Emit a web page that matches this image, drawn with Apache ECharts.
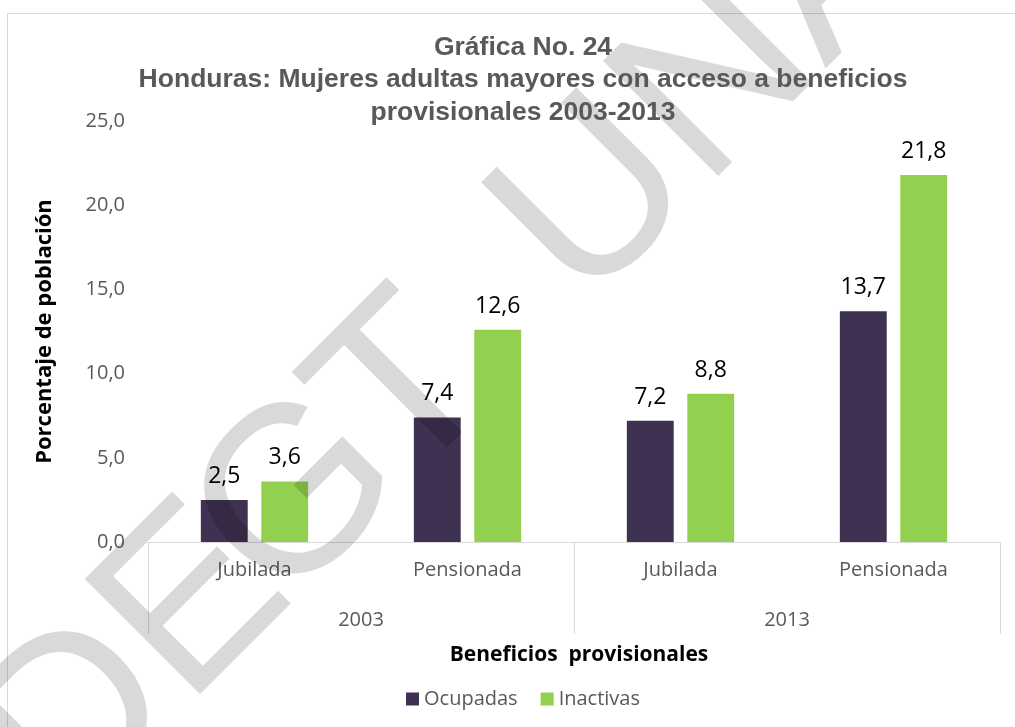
<!DOCTYPE html>
<html>
<head>
<meta charset="utf-8">
<script src="https://cdn.jsdelivr.net/npm/echarts@6/dist/echarts.min.js"></script>
<style>html,body{margin:0;padding:0;background:#fff}#c{width:1015px;height:727px}</style>
</head>
<body>
<div id="c"></div>
<script>
const categories = ['Jubilada', 'Pensionada', 'Jubilada', 'Pensionada'];
const years = ['2003', '2013'];
const seriesNames = ['Ocupadas', 'Inactivas'];
const ocupadas = [2.5, 7.4, 7.2, 13.7];
const inactivas = [3.6, 12.6, 8.8, 21.8];
const yTicks = [0, 5, 10, 15, 20, 25];
const colors = ['#3f3151', '#92d050'];

const fmt = v => v.toFixed(1).replace('.', ',');

// Background watermark (decoration): letters placed along a 45° baseline
const wmFont = 237;
const wmBaseline = -649;
const wmLetters = [['D', -540], ['E', -369], ['G', -233], ['T', -62], ['U', 193], ['N', 364], ['A', 535], ['H', 693]];
const k = Math.SQRT1_2;
const pMid = wmBaseline + 0.3465 * wmFont;
const wmGraphics = wmLetters.map(([ch, s]) => ({
  type: 'text', silent: true, z: 5,
  x: k * (s - pMid), y: -k * (s + pMid), rotation: Math.PI / 4,
  style: { text: ch, x: 0, y: 0, fontFamily: 'Liberation Sans', fontSize: wmFont,
           fill: 'rgba(0,0,0,0.15)', textAlign: 'left', verticalAlign: 'middle', textVerticalAlign: 'middle' }
}));

const chart = echarts.init(document.getElementById('c'));
const labelStyle = {
  show: true, position: 'top', distance: 12,
  fontFamily: 'Open Sans', fontSize: 23, color: '#000',
  formatter: p => fmt(p.value)
};
chart.setOption({
  animation: false,
  title: [{
    text: 'Gráfica No. 24\nHonduras: Mujeres adultas mayores con acceso a beneficios\nprovisionales 2003-2013',
    left: 518, top: 26, textAlign: 'center', z: 8,
    textStyle: { fontFamily: 'Liberation Sans', fontWeight: 'bold', fontSize: 26.5, lineHeight: 32.5, color: '#595959' }
  }, {
    text: 'Beneficios  provisionales',
    left: 574, top: 640, textAlign: 'center', z: 8,
    textStyle: { fontFamily: 'Open Sans', fontWeight: 'bold', fontSize: 21, color: '#000' }
  }],
  legend: {
    data: seriesNames, left: 401, top: 684, icon: 'rect', itemWidth: 13, itemHeight: 13, itemGap: 23,
    textStyle: { fontFamily: 'Open Sans', fontSize: 20, color: '#595959' }
  },
  grid: { left: 148, right: 15, top: 121, bottom: 185 },
  xAxis: [{
    type: 'category', data: categories, position: 'bottom',
    axisLine: { lineStyle: { color: '#d9d9d9' } },
    axisTick: { show: false },
    axisLabel: { fontFamily: 'Open Sans', fontSize: 20, color: '#595959', margin: 18 }
  }, {
    type: 'category', data: years, position: 'bottom', offset: 92,
    axisLine: { show: false },
    axisTick: { show: true, inside: true, length: 92, lineStyle: { color: '#d9d9d9' } },
    axisLabel: { inside: true, fontFamily: 'Open Sans', fontSize: 20, color: '#595959', margin: 4 }
  }],
  yAxis: {
    type: 'value', min: yTicks[0], max: yTicks[yTicks.length - 1], interval: yTicks[1] - yTicks[0],
    name: 'Porcentaje de población', nameLocation: 'middle', nameGap: 92, nameRotate: 90,
    nameTextStyle: { fontFamily: 'Open Sans', fontWeight: 'bold', fontSize: 22, color: '#000' },
    axisLine: { show: false }, axisTick: { show: false }, splitLine: { show: false },
    axisLabel: { fontFamily: 'Open Sans', fontSize: 20, color: '#595959', margin: 23, formatter: v => fmt(v) }
  },
  series: [{
    name: seriesNames[0], type: 'bar', data: ocupadas, barWidth: '22%', barGap: '29%',
    itemStyle: { color: colors[0] }, label: labelStyle
  }, {
    name: seriesNames[1], type: 'bar', data: inactivas, barWidth: '22%', barGap: '29%',
    itemStyle: { color: colors[1] }, label: labelStyle
  }],
  graphic: [{
    type: 'rect', silent: true, z: -10,
    shape: { x: 7.5, y: 13.5, width: 1030, height: 730 },
    style: { fill: 'none', stroke: '#d9d9d9', lineWidth: 1 }
  }].concat(wmGraphics)
});
</script>
</body>
</html>
